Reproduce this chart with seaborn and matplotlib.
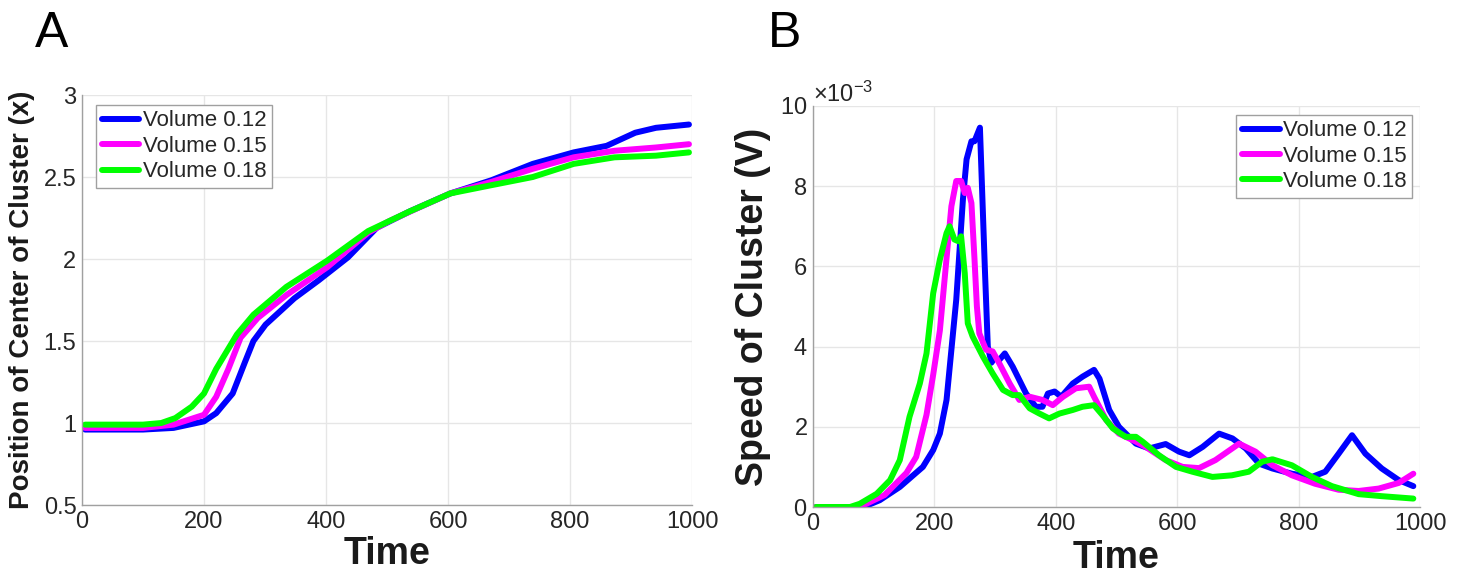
import numpy as np
import pandas as pd
import matplotlib
matplotlib.use("Agg")
import matplotlib.pyplot as plt
import seaborn as sns

# panel A: position of cluster centre vs time
pos_t_012 = [5, 50, 100, 150, 200, 220, 247, 267, 281, 301, 348, 388, 436, 483, 537, 604, 671, 739, 806, 860, 907, 941, 995]
pos_012 = [0.96, 0.96, 0.96, 0.97, 1.01, 1.06, 1.18, 1.37, 1.50, 1.60, 1.76, 1.87, 2.01, 2.19, 2.29, 2.40, 2.48, 2.58, 2.65, 2.69, 2.77, 2.80, 2.82]
pos_t_015 = [5, 50, 100, 150, 200, 220, 240, 260, 288, 335, 402, 469, 503, 550, 604, 671, 739, 806, 873, 941, 995]
pos_015 = [0.97, 0.97, 0.97, 0.99, 1.05, 1.16, 1.33, 1.52, 1.64, 1.78, 1.95, 2.16, 2.23, 2.31, 2.40, 2.47, 2.55, 2.62, 2.66, 2.68, 2.70]
pos_t_018 = [5, 50, 100, 130, 153, 180, 200, 220, 254, 281, 335, 402, 469, 537, 604, 671, 739, 806, 873, 941, 995]
pos_018 = [0.99, 0.99, 0.99, 1.00, 1.03, 1.10, 1.18, 1.33, 1.54, 1.66, 1.83, 1.99, 2.17, 2.29, 2.40, 2.45, 2.50, 2.58, 2.62, 2.63, 2.65]

# panel B: speed of cluster (in units of 1e-3)
spd_t_012 = [5, 83, 110, 143, 181, 198, 209, 220, 228, 236, 247, 253, 261, 266, 275, 283, 288, 294, 299, 307, 316, 329, 351, 367,
             378, 387, 398, 409, 428, 444, 463, 472, 488, 504, 532, 554, 581, 603, 620, 642, 669, 691, 713, 735, 757, 789, 822, 844,
             866, 888, 910, 937, 965, 989]
spd_012 = [0, 0, 0.17, 0.5, 1.0, 1.42, 1.83, 2.67, 3.92, 5.17, 7.67, 8.67, 9.12, 9.12, 9.46, 6.0, 4.0, 3.6, 3.71, 3.67, 3.83, 3.5, 2.83, 2.5,
           2.5, 2.83, 2.88, 2.75, 3.08, 3.25, 3.42, 3.2, 2.42, 2.0, 1.58, 1.46, 1.57, 1.38, 1.29, 1.50, 1.83, 1.71, 1.46, 1.08, 0.96, 0.83, 0.75, 0.88,
           1.33, 1.79, 1.33, 0.96, 0.67, 0.52]
spd_t_015 = [5, 72, 88, 118, 154, 170, 187, 198, 209, 220, 228, 236, 244, 250, 255, 261, 266, 270, 274, 285, 296, 307, 324, 340, 357,
             378, 395, 412, 433, 455, 463, 483, 504, 532, 548, 581, 609, 636, 663, 702, 729, 757, 789, 827, 866, 899, 932, 965, 989]
spd_015 = [0, 0, 0.08, 0.3, 0.85, 1.25, 2.3, 3.3, 4.4, 6.2, 7.5, 8.13, 8.13, 7.83, 7.96, 7.58, 6.2, 5.0, 4.33, 3.92, 3.88, 3.58, 3.08, 2.67, 2.75,
           2.67, 2.54, 2.75, 2.96, 3.0, 2.75, 2.17, 1.83, 1.63, 1.5, 1.17, 1.0, 0.97, 1.17, 1.58, 1.38, 1.04, 0.79, 0.58, 0.43, 0.40, 0.46, 0.60, 0.83]
spd_t_018 = [5, 61, 77, 105, 127, 143, 159, 176, 187, 198, 209, 220, 225, 233, 239, 244, 250, 255, 263, 280, 296, 313, 329, 340, 357,
             373, 389, 406, 428, 444, 463, 477, 494, 515, 532, 543, 570, 598, 625, 658, 690, 718, 740, 757, 789, 822, 855, 899, 937, 989]
spd_018 = [0, 0, 0.08, 0.33, 0.67, 1.17, 2.25, 3.08, 3.83, 5.33, 6.17, 6.83, 7.0, 6.67, 6.63, 6.75, 5.83, 4.58, 4.25, 3.75, 3.33, 2.92, 2.79, 2.79, 2.46,
           2.33, 2.21, 2.33, 2.42, 2.5, 2.54, 2.29, 1.96, 1.75, 1.75, 1.63, 1.29, 1.0, 0.88, 0.75, 0.79, 0.88, 1.13, 1.19, 1.04, 0.75, 0.52, 0.32, 0.27, 0.21]

labels = ["Volume 0.12", "Volume 0.15", "Volume 0.18"]
colors = ["#0000ff", "#ff00ff", "#00ff00"]

def make_df(ts, ys, scale=1.0):
    parts = []
    for lab, t, y in zip(labels, ts, ys):
        parts.append(pd.DataFrame({"Time": t, "val": np.array(y) * scale, "series": lab}))
    return pd.concat(parts, ignore_index=True)

df_pos = make_df([pos_t_012, pos_t_015, pos_t_018], [pos_012, pos_015, pos_018])
df_spd = make_df([spd_t_012, spd_t_015, spd_t_018], [spd_012, spd_015, spd_018], 1e-3)

sns.set_style("white")
plt.rcParams["font.family"] = ["Liberation Sans", "DejaVu Sans"]
plt.rcParams["mathtext.fontset"] = "custom"
plt.rcParams["mathtext.rm"] = "Liberation Sans"

fig = plt.figure(figsize=(14.65, 5.78), dpi=100)
axA = fig.add_axes([82 / 1465, 73 / 578, 610 / 1465, 410 / 578])
axB = fig.add_axes([813 / 1465, 71 / 578, 607 / 1465, 401 / 578])

tick_col = "#262626"
lab_col = "#1a1a1a"
for ax, df in [(axA, df_pos), (axB, df_spd)]:
    sns.lineplot(data=df, x="Time", y="val", hue="series", palette=colors,
                 linewidth=4.3, ax=ax, estimator=None)
    ax.set_xlim(0, 1000)
    ax.set_xticks([0, 200, 400, 600, 800, 1000])
    ax.grid(True, color="#e6e6e6", linewidth=1)
    ax.set_axisbelow(True)
    for s in ["top", "right"]:
        ax.spines[s].set_visible(False)
    for s in ["left", "bottom"]:
        ax.spines[s].set_color("#a0a0a0")
        ax.spines[s].set_linewidth(1)
    ax.tick_params(direction="in", length=5, width=1, color="#a0a0a0",
                   labelsize=17, labelcolor=tick_col, pad=4)
    ax.set_xlabel("Time", fontsize=27, fontweight="bold", color=lab_col)
    ax.legend(fontsize=16, frameon=True, fancybox=False, edgecolor="#a0a0a0",
              framealpha=1, handlelength=1.7, handletextpad=0.15,
              labelspacing=0.2, borderpad=0.25, borderaxespad=0)

axA.set_ylim(0.5, 3)
axA.set_yticks([0.5, 1, 1.5, 2, 2.5, 3])
axA.set_yticklabels(["0.5", "1", "1.5", "2", "2.5", "3"])
axA.set_ylabel("Position of Center of Cluster (x)", fontsize=20, fontweight="bold", color=lab_col)
axA.yaxis.set_label_coords(-0.077, 0.5)
axA.xaxis.set_label_coords(0.5, -0.075)
leg = axA.get_legend()
leg.set_loc("upper left")
leg.set_bbox_to_anchor((0.023, 0.976), transform=axA.transAxes)

axB.set_ylim(0, 0.010)
axB.set_yticks([0, 0.002, 0.004, 0.006, 0.008, 0.010])
axB.ticklabel_format(axis="y", style="sci", scilimits=(-3, -3), useMathText=True)
axB.yaxis.get_offset_text().set_fontsize(17)
axB.yaxis.get_offset_text().set_color(tick_col)
axB.set_ylabel("Speed of Cluster (V)", fontsize=27, fontweight="bold", color=lab_col)
axB.yaxis.set_label_coords(-0.069, 0.5)
axB.xaxis.set_label_coords(0.5, -0.083)
leg = axB.get_legend()
leg.set_loc("upper right")
leg.set_bbox_to_anchor((0.987, 0.978), transform=axB.transAxes)

fig.text(35 / 1465, 1 - 47 / 578, "A", fontsize=36, color="black")
fig.text(768 / 1465, 1 - 47 / 578, "B", fontsize=36, color="black")

fig.savefig("out.png", dpi=100)
